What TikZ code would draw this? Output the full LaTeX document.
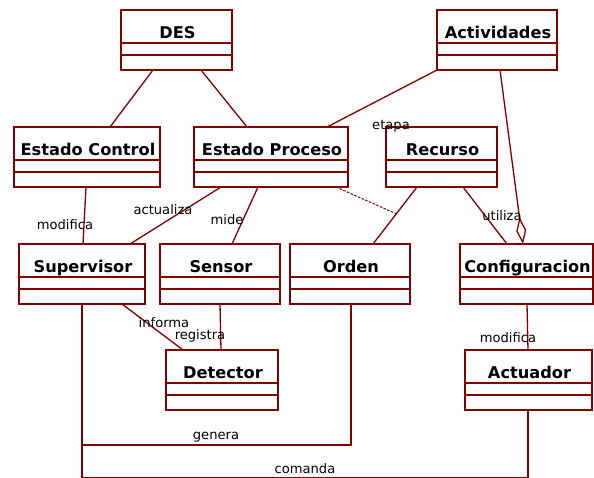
\documentclass[tikz,border=0pt]{standalone}
\usepackage{fontspec}
\setmainfont{DejaVu Sans}
\usetikzlibrary{arrows.meta}
\definecolor{umlred}{RGB}{128,0,0}
\tikzset{
  umlcls/.style={draw=umlred, line width=1.3pt, minimum height=60pt, inner sep=0pt, outer sep=0pt},
  umlsep/.style={draw=umlred, line width=1.3pt},
  umlname/.style={font=\fontsize{16.2}{18}\selectfont\bfseries, inner sep=0pt, anchor=base},
  assoc/.style={draw=umlred, line width=1.3pt},
  dep/.style={draw=umlred, line width=1pt, dash pattern=on 2.5pt off 1.5pt},
  lbl/.style={font=\fontsize{13.1}{15}\selectfont, inner sep=0pt, anchor=base},
}
% UML class with an empty attribute and operation compartment
\newcommand\umlbox[5]{%
  \node[umlcls, minimum width=#4pt, anchor=north west] (#1) at (#2,#3) {};
  \draw[umlsep] ([yshift=-33pt]#1.north west) -- ([yshift=-33pt]#1.north east)
                ([yshift=-45pt]#1.north west) -- ([yshift=-45pt]#1.north east);
  \node[umlname] (#1-name) at ([yshift=-28pt,xshift=1pt]#1.north) {#5};
}
\begin{document}
\begin{tikzpicture}[x=1pt, y=-1pt]
\fill[white] (0,0) rectangle (594,477);
\useasboundingbox (0,0) rectangle (594,477);

% classes
\umlbox{des}{121}{10}{111}{DES}
\umlbox{act}{437}{10}{120}{Actividades}
\umlbox{ec}{14}{127}{146}{Estado Control}
\umlbox{ep}{194}{127}{154}{Estado Proceso}
\umlbox{rec}{386}{127}{111}{Recurso}
\umlbox{sup}{19}{244}{126}{Supervisor}
\umlbox{sen}{160}{244}{120}{Sensor}
\umlbox{ord}{290}{244}{120}{Orden}
\umlbox{conf}{460}{244}{133}{Configuracion}
\umlbox{det}{166}{350}{112}{Detector}
\umlbox{actu}{465}{350}{127}{Actuador}

% associations
\draw[assoc] ([xshift=32pt]des.south west) -- ([xshift=96pt]ec.north west);
\draw[assoc] ([xshift=80pt]des.south west) -- ([xshift=53pt]ep.north west);
\draw[assoc] (act.south west) -- ([xshift=133pt]ep.north west);
\draw[assoc, {Diamond[open, length=27pt, width=10pt]}-] ([xshift=63pt]conf.north west) -- ([xshift=63pt]act.south west);
\draw[assoc] ([xshift=72pt]ec.south west) -- ([xshift=64pt]sup.north west);
\draw[assoc] ([xshift=27pt]ep.south west) -- ([xshift=111pt]sup.north west);
\draw[assoc] ([xshift=64pt]ep.south west) -- ([xshift=72pt]sen.north west);
\draw[assoc] ([xshift=31pt]rec.south west) -- coordinate[pos=0.47] (record) ([xshift=83pt]ord.north west);
\draw[dep] ([xshift=142pt]ep.south west) -- (record);
\draw[assoc] ([xshift=77pt]rec.south west) -- ([xshift=47pt]conf.north west);
\draw[assoc] ([xshift=103pt]sup.south west) -- ([xshift=17pt]det.north west);
\draw[assoc] ([xshift=60pt]sen.south west) -- ([xshift=55pt]det.north west);
\draw[assoc] ([xshift=67pt]conf.south west) -- ([xshift=63pt]actu.north west);

% routed connectors from Supervisor
\coordinate (supfoot) at ([xshift=63pt]sup.south west);
\coordinate (ordfoot) at ([xshift=61pt]ord.south west);
\coordinate (actufoot) at ([xshift=63pt]actu.south west);
\coordinate (generay) at (0,445);
\coordinate (comanday) at (0,477.2);
\draw[assoc] (supfoot) -- (supfoot |- generay) -| (ordfoot);
\draw[assoc] (supfoot) -- (supfoot |- comanday) -| (actufoot);

% role labels
\node[lbl] (l-modifica) at (65,229.5) {modifica};
\node[lbl] (l-actualiza) at (163,214.5) {actualiza};
\node[lbl] (l-mide) at (227,224) {mide};
\node[lbl] (l-etapa) at (391,129) {etapa};
\node[lbl] (l-utiliza) at (502,220) {utiliza};
\node[lbl] (l-informa) at (164,327) {informa};
\node[lbl] (l-registra) at (200,339.5) {registra};
\node[lbl] (l-genera) at (216,439.5) {genera};
\node[lbl] (l-comanda) at (305,473) {comanda};
\node[lbl] (l-modifica2) at (508,342) {modifica};
\end{tikzpicture}
\end{document}
